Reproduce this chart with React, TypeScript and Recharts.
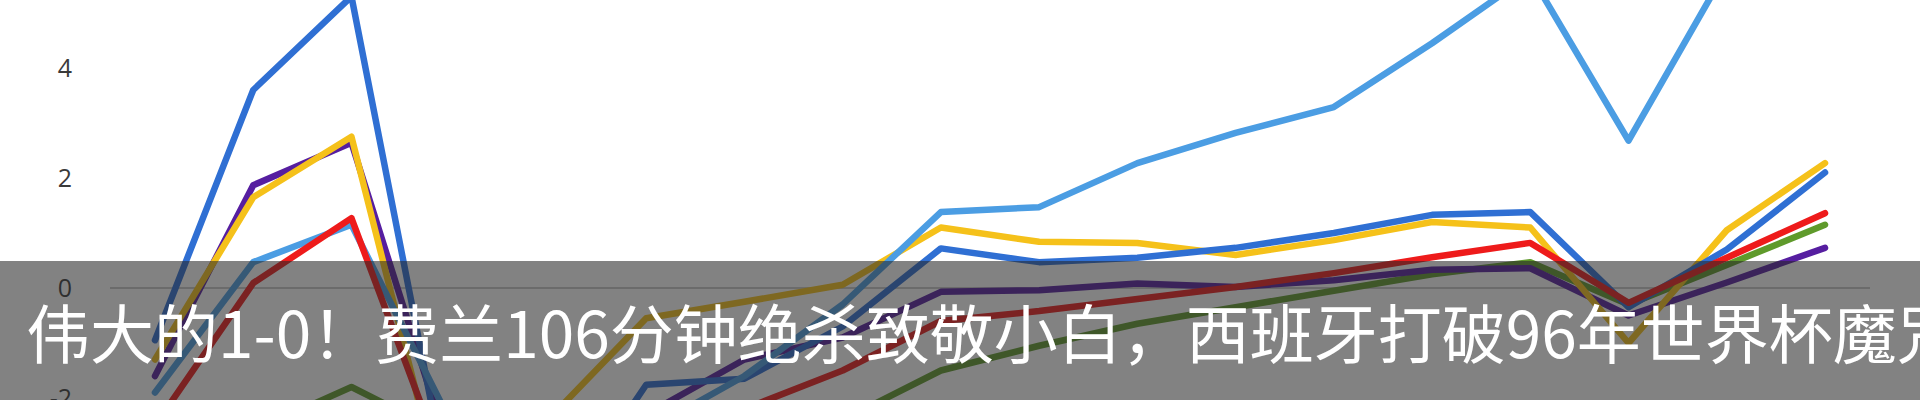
import React from "react";
import { LineChart, Line, XAxis, YAxis, CartesianGrid } from "recharts";

// match index (x axis is not visible in the picture)
const games = ["1", "2", "3", "4", "5", "6", "7", "8", "9", "10", "11", "12", "13", "14", "15", "16", "17", "18"];

const lightBlue = [-1.9, 0.47, 1.15, -2.4, -3.5, -2.6, -1.6, -0.3, 1.38, 1.47, 2.27, 2.82, 3.29, 4.45, 5.7, 2.68, 5.8, 6.0];
const royalBlue = [-0.95, 3.6, 5.3, -3.8, -4.4, -1.76, -1.65, -0.7, 0.72, 0.47, 0.55, 0.73, 1.0, 1.33, 1.38, -0.35, 0.7, 2.1];
const yellow = [-1.3, 1.65, 2.75, -4.3, -2.4, -0.55, -0.25, 0.06, 1.1, 0.84, 0.82, 0.6, 0.87, 1.2, 1.1, -1.0, 1.05, 2.27];
const purple = [-1.6, 1.87, 2.64, -3.0, -3.2, -2.3, -1.3, -0.9, -0.07, -0.04, 0.08, 0.02, 0.14, 0.33, 0.36, -0.5, 0.1, 0.73];
const red = [-2.5, 0.09, 1.27, -3.5, -3.3, -2.8, -2.2, -1.5, -0.6, -0.42, -0.2, 0.02, 0.27, 0.56, 0.82, -0.27, 0.55, 1.36];
const green = [-3.5, -2.6, -1.8, -2.7, -4.0, -3.6, -3.2, -2.4, -1.5, -1.05, -0.65, -0.35, -0.05, 0.25, 0.47, -0.3, 0.42, 1.15];

const yTicks = [-6, -4, -2, 0, 2, 4, 6];
const caption = "伟大的1-0！费兰106分钟绝杀致敬小白，西班牙打破96年世界杯魔咒";

const data = games.map((g, i) => ({
  game: g,
  lightBlue: lightBlue[i],
  royalBlue: royalBlue[i],
  yellow: yellow[i],
  purple: purple[i],
  red: red[i],
  green: green[i],
}));

// drawing order = stacking order
const series = [
  { key: "green", color: "#5f9a2b" },
  { key: "purple", color: "#561ea0" },
  { key: "yellow", color: "#f5c11a" },
  { key: "royalBlue", color: "#2f6fd3" },
  { key: "lightBlue", color: "#4b9de3" },
  { key: "red", color: "#ee1b1b" },
];

export default function App() {
  return (
    <div
      style={{
        position: "absolute",
        left: 0,
        top: 0,
        width: 1920,
        height: 400,
        overflow: "hidden",
        background: "#fff",
      }}
    >
      <div style={{ position: "absolute", left: 0, top: -60 }}>
        <LineChart
          width={1920}
          height={700}
          data={data}
          margin={{ top: 18, right: 50, left: 0, bottom: 22 }}
        >
          <CartesianGrid
            vertical={false}
            horizontalValues={[0]}
            stroke="#c8c8c8"
            strokeWidth={2}
          />
          <XAxis dataKey="game" hide padding={{ left: 45, right: 45 }} />
          <YAxis
            type="number"
            domain={[-6, 6]}
            ticks={yTicks}
            allowDataOverflow
            width={110}
            axisLine={false}
            tickLine={false}
            tickMargin={32}
            tick={{ fontSize: 25, fill: "#3a3a3a", fontFamily: "Open Sans" }}
          />
          {series.map((s) => (
            <Line
              key={s.key}
              type="linear"
              dataKey={s.key}
              stroke={s.color}
              strokeWidth={6.5}
              strokeLinecap="round"
              strokeLinejoin="round"
              dot={false}
              activeDot={false}
              isAnimationActive={false}
            />
          ))}
        </LineChart>
      </div>
      <svg
        width={1920}
        height={400}
        style={{ position: "absolute", left: 0, top: 0 }}
      >
        <rect x={0} y={261} width={1920} height={139} fill="rgba(40,40,40,0.58)" />
        <text
          x={26}
          y={358}
          fill="#fff"
          fontSize={64}
          fontFamily="'Noto Sans CJK SC'"
        >
          {caption}
        </text>
      </svg>
    </div>
  );
}
